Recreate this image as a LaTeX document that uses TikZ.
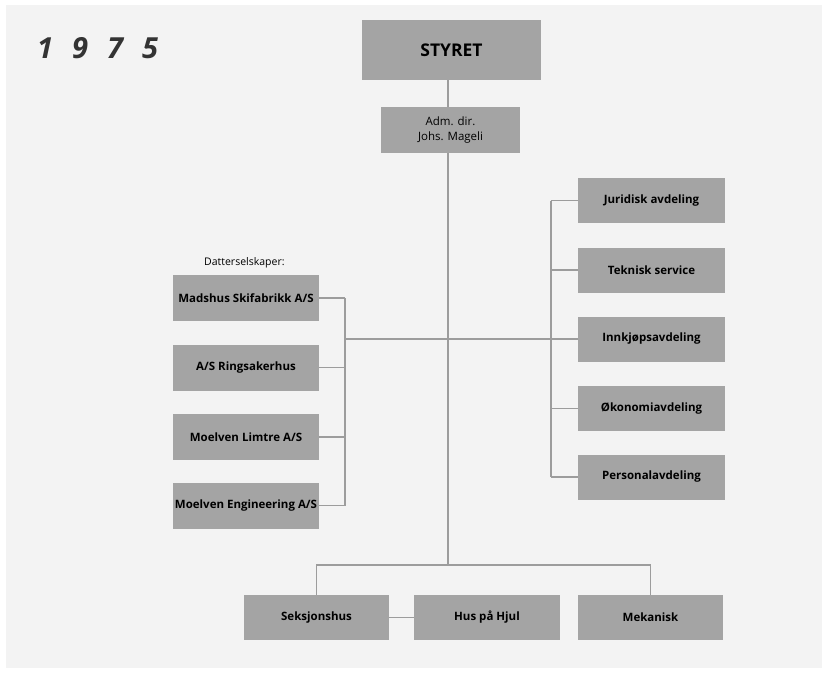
\documentclass[tikz,border=0pt]{standalone}
\usepackage{fontspec}
\setmainfont{Open Sans}
\begin{document}
\begin{tikzpicture}[x=1pt,y=-1pt,
  box/.style={fill=boxgrey,inner sep=0pt,align=center,text=black,font=\bfseries\fontsize{11.5}{13}\selectfont},
  lbox/.style={box,minimum width=146pt,minimum height=46pt},
  rbox/.style={box,minimum width=147pt,minimum height=45pt},
  bbox/.style={box,minimum width=146pt,minimum height=45pt},
  conn/.style={draw=linegrey,line width=1.8pt}]
\definecolor{boxgrey}{HTML}{A4A4A4}
\definecolor{linegrey}{HTML}{9C9C9C}
\definecolor{bg}{HTML}{F3F3F3}
\definecolor{yeargrey}{HTML}{333333}
\useasboundingbox (0,0) rectangle (827,673);
\fill[white] (0,0) rectangle (827,673);
\fill[bg] (6,5) rectangle (822,668);
% year
\node[anchor=west,inner sep=0pt,text=yeargrey,font=\bfseries\itshape\fontsize{29}{32}\selectfont] (year) at (37,48) {\spaceskip=19pt 1 9 7 5};
% top
\node[box,minimum width=179pt,minimum height=60pt,font=\bfseries\fontsize{17.5}{20}\selectfont] (styret) at (451.5,50) {STYRET};
\node[box,minimum width=139pt,minimum height=46pt,font=\fontsize{11.5}{14.5}\selectfont] (adm) at (450.5,130) {Adm. dir.\\Johs. Mageli};
% left
\node[anchor=west,inner sep=0pt,font=\fontsize{10.5}{12}\selectfont] (datter) at (204,263) {Datterselskaper:};
\node[lbox] (l1) at (246,298) {Madshus Skifabrikk A/S};
\node[lbox] (l2) at (246,367.5) {A/S Ringsakerhus};
\node[lbox] (l3) at (246,437) {Moelven Limtre A/S};
\node[lbox] (l4) at (246,505.5) {Moelven Engineering A/S};
% right
\node[rbox] (r1) at (651.5,200.5) {Juridisk avdeling};
\node[rbox] (r2) at (651.5,270) {Teknisk service};
\node[rbox] (r3) at (651.5,339) {Innkjøpsavdeling};
\node[rbox] (r4) at (651.5,408.5) {Økonomiavdeling};
\node[rbox] (r5) at (651.5,477) {Personalavdeling};
% bottom
\node[bbox,minimum width=145pt] (b1) at (316.5,617.5) {Seksjonshus};
\node[bbox] (b2) at (487,617.5) {Hus på Hjul};
\node[bbox,minimum width=145pt] (b3) at (650.5,617.5) {Mekanisk};
% connector coordinates
\coordinate (spx) at (448,0);
\coordinate (lbx) at (345,0);
\coordinate (rbx) at (551,0);
\coordinate (bj) at (448,565);
% spine
\draw[conn] (styret.south -| spx) -- (adm.north -| spx);
\draw[conn] (adm.south -| spx) -- (bj);
% left bus
\foreach \n in {l1,l2,l3,l4} \draw[conn] (\n.east) -- (\n.east -| lbx);
\draw[conn] (l1.east -| lbx) -- (l4.east -| lbx);
% main horizontal
\draw[conn] (r3.west -| lbx) -- (r3.west);
% right bus
\foreach \n in {r1,r2,r4,r5} \draw[conn] (\n.west) -- (\n.west -| rbx);
\draw[conn] (r1.west -| rbx) -- (r5.west -| rbx);
% bottom
\draw[conn] (b1.north) |- (bj) -| (b3.north);
\draw[conn] (b1.east) -- (b2.west);
\end{tikzpicture}
\end{document}
